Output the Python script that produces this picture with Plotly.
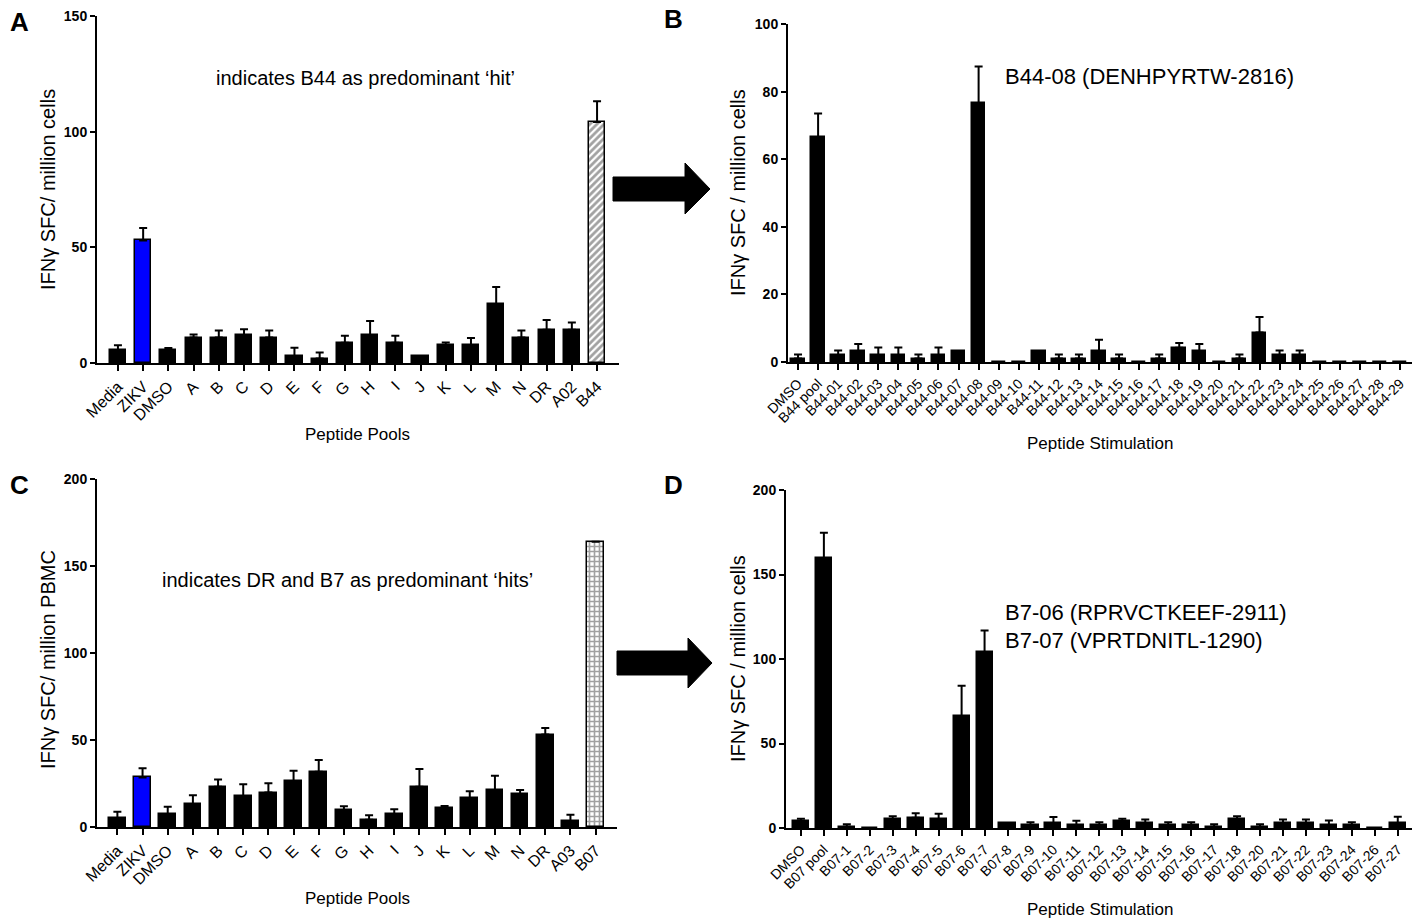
import plotly.graph_objects as go

# ---- data ----
pools_a = ["Media", "ZIKV", "DMSO", "A", "B", "C", "D", "E", "F", "G", "H",
           "I", "J", "K", "L", "M", "N", "DR", "A02", "B44"]
mean_a = [5.5, 53, 5.5, 11, 11, 12, 11, 3, 1.9, 8.8, 12, 8.8, 3, 7.7, 7.7,
          25.4, 11, 14.4, 14.4, 104.2]
top_a = [7.7, 58.4, 6.5, 12.3, 14, 14.6, 14, 6.6, 4.5, 11.8, 18.2, 11.8, 3,
         8.9, 10.8, 32.9, 14.1, 18.6, 17.5, 113.2]

peps_b = ["DMSO", "B44 pool"] + ["B44-%02d" % i for i in range(1, 30)]
mean_b = [1, 66.6, 2, 3.2, 2, 2, 1, 2, 3.2, 76.5, 0, 0, 3.2, 1, 1, 3.2, 1, 0,
          1, 4.2, 3.2, 0, 1, 8.7, 2, 2, 0, 0, 0, 0, 0]
top_b = [2.2, 73.5, 3.4, 5.3, 4.3, 4.3, 2.2, 4.3, 3.2, 87.4, 0, 0, 3.2, 2.2,
         2.2, 6.6, 2.2, 0, 2.2, 5.6, 5.3, 0, 2.2, 13.3, 3.4, 3.4, 0, 0, 0, 0, 0]

pools_c = ["Media", "ZIKV", "DMSO", "A", "B", "C", "D", "E", "F", "G", "H",
           "I", "J", "K", "L", "M", "N", "DR", "A03", "B07"]
mean_c = [5.2, 28.5, 7.5, 13.1, 23.1, 17.7, 19.8, 26.3, 31.7, 9.8, 4.2, 7.5,
          23.1, 11, 16.5, 21, 18.7, 53.1, 3.5, 164]
top_c = [8.7, 33.7, 11.7, 18.3, 27.3, 24.6, 25.2, 32.3, 38.5, 11.9, 6.7, 10.2,
         33.3, 12.1, 20.6, 29.4, 21.3, 56.9, 7.1, 164]

peps_d = (["DMSO", "B07 pool"] + ["B07-%d" % i for i in range(1, 19)]
          + ["B07-%d" % i for i in range(20, 25)] + ["B07-26", "B07-27"])
mean_d = [3.9, 159.5, 0.8, 0, 5.1, 6.1, 5.1, 66.3, 104.2, 3, 1.6, 3, 1.6, 1.6,
          3.9, 3, 1.6, 1.6, 0.8, 5.1, 0.8, 3, 3, 1.6, 1.6, 0, 3]
top_d = [5.5, 174.7, 2.2, 0, 6.9, 8.7, 8.5, 84.1, 116.9, 3, 3.4, 6.5, 4.3, 3.4,
         5.5, 5.1, 3.4, 3.4, 2.2, 6.9, 2.2, 5.1, 5.1, 4.5, 3.4, 0, 6.7]

W, H = 1412, 919
FONT = "Liberation Sans, Arial, sans-serif"
NARROW = "Liberation Sans Narrow, Arial Narrow, Liberation Sans, sans-serif"


def fx(px):
    return px / W


def fy(py):
    return 1 - py / H


def bar_colors(cats, special):
    fills, shapes = [], []
    for c in cats:
        if c == "ZIKV":
            fills.append("#0000ff")
        elif c in special:
            fills.append("white")
        else:
            fills.append("black")
        shapes.append(special.get(c, ""))
    return fills, shapes


def add_panel(fig, cats, mean, top, xa, ya, width, special=None):
    special = special or {}
    fills, shapes = bar_colors(cats, special)
    fig.add_trace(go.Bar(
        x=cats, y=mean, width=width,
        marker=dict(color=fills, line=dict(color="black", width=1.5),
                    pattern=dict(shape=shapes, fgcolor="black", bgcolor="white",
                                 size=[5 if s == "+" else 5 for s in shapes],
                                 solidity=0.55)),
        error_y=dict(type="data", symmetric=False,
                     array=[t - m for t, m in zip(top, mean)],
                     arrayminus=[0] * len(mean),
                     color="black", thickness=2, width=4),
        xaxis=xa, yaxis=ya, showlegend=False,
    ))


fig = go.Figure()
add_panel(fig, pools_a, mean_a, top_a, "x", "y", 0.64, {"B44": "/"})
add_panel(fig, peps_b, mean_b, top_b, "x2", "y2", 0.68)
add_panel(fig, pools_c, mean_c, top_c, "x3", "y3", 0.66, {"B07": "+"})
add_panel(fig, peps_d, mean_d, top_d, "x4", "y4", 0.7)

xcommon = dict(showline=True, linecolor="black", linewidth=2, ticks="outside",
               ticklen=6, tickwidth=2, tickcolor="black", tickangle=-45,
               showgrid=False, zeroline=False, type="category", automargin=False)
ycommon = dict(showline=True, linecolor="black", linewidth=2, ticks="outside",
               ticklen=5, tickwidth=2, tickcolor="black", showgrid=False,
               zeroline=False, automargin=False,
               tickfont=dict(family=NARROW, size=14, color="black", weight="bold"))

fig.update_layout(
    width=W, height=H, margin=dict(l=0, r=0, t=0, b=0),
    paper_bgcolor="white", plot_bgcolor="white",
    font=dict(family=FONT, color="black"),
    bargap=0,
    xaxis=dict(xcommon, domain=[fx(97), fx(619)], range=[-0.83, 19.87], anchor="y",
               tickfont=dict(size=16)),
    yaxis=dict(ycommon, domain=[fy(363), fy(16)], range=[0, 150],
               tickvals=[0, 50, 100, 150], anchor="x"),
    xaxis2=dict(xcommon, domain=[fx(788), 1.0], range=[-0.5, 30.6], anchor="y2",
                tickfont=dict(size=14)),
    yaxis2=dict(ycommon, domain=[fy(362), fy(24)], range=[0, 100],
                tickvals=[0, 20, 40, 60, 80, 100], anchor="x2"),
    xaxis3=dict(xcommon, domain=[fx(97), fx(617)], range=[-0.81, 19.85], anchor="y3",
                tickfont=dict(size=16)),
    yaxis3=dict(ycommon, domain=[fy(827), fy(479)], range=[0, 200],
                tickvals=[0, 50, 100, 150, 200], anchor="x3"),
    xaxis4=dict(xcommon, domain=[fx(786), 1.0], range=[-0.65, 26.62], anchor="y4",
                tickfont=dict(size=14)),
    yaxis4=dict(ycommon, domain=[fy(828), fy(490)], range=[0, 200],
                tickvals=[0, 50, 100, 150, 200], anchor="x4"),
)

notes = [
    # panel letters
    dict(x=fx(8), y=fy(5), text="<b>A</b>", size=26, xa="left", ya="top"),
    dict(x=fx(662), y=fy(2), text="<b>B</b>", size=26, xa="left", ya="top"),
    dict(x=fx(8), y=fy(468), text="<b>C</b>", size=26, xa="left", ya="top"),
    dict(x=fx(662), y=fy(468), text="<b>D</b>", size=26, xa="left", ya="top"),
    # in-plot text
    dict(x=fx(365), y=fy(78), text="indicates B44 as predominant ‘hit’", size=20),
    dict(x=fx(347), y=fy(580), text="indicates DR and B7 as predominant ‘hits’", size=20),
    dict(x=fx(1003), y=fy(77), text="B44-08 (DENHPYRTW-2816)", size=22, xa="left",
         fam=NARROW),
    dict(x=fx(1003), y=fy(612), text="B7-06 (RPRVCTKEEF-2911)", size=22, xa="left",
         fam=NARROW),
    dict(x=fx(1003), y=fy(640), text="B7-07 (VPRTDNITL-1290)", size=22, xa="left",
         fam=NARROW),
    # axis titles
    dict(x=fx(358), y=fy(434), text="Peptide Pools", size=17),
    dict(x=fx(358), y=fy(898), text="Peptide Pools", size=17),
    dict(x=fx(1100), y=fy(443), text="Peptide Stimulation", size=17),
    dict(x=fx(1100), y=fy(909), text="Peptide Stimulation", size=17),
    dict(x=fx(48), y=fy(190), text="IFNγ SFC/ million cells", size=20, rot=-90),
    dict(x=fx(48), y=fy(660), text="IFNγ SFC/ million PBMC", size=20, rot=-90),
    dict(x=fx(738), y=fy(192), text="IFNγ SFC / million cells", size=20, rot=-90),
    dict(x=fx(738), y=fy(658), text="IFNγ SFC / million cells", size=20, rot=-90),
]
for n in notes:
    fig.add_annotation(x=n["x"], y=n["y"], xref="paper", yref="paper",
                       text=n["text"], showarrow=False,
                       xanchor=n.get("xa", "center"), yanchor=n.get("ya", "middle"),
                       textangle=n.get("rot", 0),
                       font=dict(family=n.get("fam", FONT), size=n["size"],
                                 color="black"))


def arrow_path(pts):
    return "M " + " L ".join("%.5f,%.5f" % (fx(a), fy(b)) for a, b in pts) + " Z"


arrows = [
    [(613, 177), (685, 177), (685, 163), (710, 189), (685, 214), (685, 201), (613, 201)],
    [(617, 651), (688, 651), (688, 638), (712, 663), (688, 688), (688, 675), (617, 675)],
]
for pts in arrows:
    fig.add_shape(type="path", path=arrow_path(pts), xref="paper", yref="paper",
                  fillcolor="black", line=dict(color="black", width=1))

# drop the browser's default body margin so the figure sits at the page corner
fig.write_html("out.html", config={"displayModeBar": False},
               post_script="document.body.style.margin='0';document.body.style.overflow='hidden';")
